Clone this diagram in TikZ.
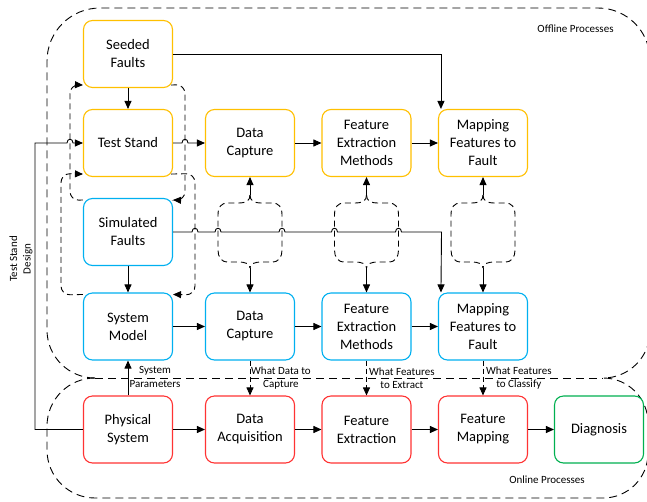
\documentclass[tikz,border=0pt]{standalone}
\usepackage{fontspec}
\setmainfont{Carlito}
\usetikzlibrary{arrows.meta,calc}
\definecolor{cyel}{HTML}{FFC000}
\definecolor{cblu}{HTML}{00B0F0}
\definecolor{cred}{HTML}{FF3333}
\definecolor{cgrn}{HTML}{00B050}
\newcommand{\hopp}[2]{-- ({#1-3},{#2}) .. controls ({#1-3},{#2-5}) and ({#1+3},{#2-5}) .. ({#1+3},{#2})}
\begin{document}
\begin{tikzpicture}[x=1pt,y=-1pt,
  box/.style={draw, line width=1.1pt, fill=white, rounded corners=9pt, minimum width=89pt, minimum height=67pt, align=center, font=\fontsize{14.5}{18}\selectfont, inner sep=2pt},
  yb/.style={box, draw=cyel},
  bb/.style={box, draw=cblu},
  rb/.style={box, draw=cred},
  gb/.style={box, draw=cgrn},
  conn/.style={line width=0.9pt, -{Triangle[length=8pt,width=7pt]}},
  dconn/.style={conn, dash pattern=on 5pt off 3pt},
  lp/.style={line width=0.9pt, dash pattern=on 6pt off 4pt, rounded corners=9pt, -{Triangle[length=8pt,width=7pt]}},
  brc/.style={line width=0.9pt, dash pattern=on 6pt off 4pt},
  region/.style={line width=0.9pt, dash pattern=on 8pt off 5pt},
  lbl/.style={font=\fontsize{11}{13.5}\selectfont, align=center, inner sep=0pt},
]
\clip (0,0) rectangle (647,501);
\fill[white] (0,0) rectangle (647,501);

% regions
\draw[region] (95,378) .. controls (68.5,378) and (47,356.5) .. (47,330) -- (47,61) .. controls (47,31.7) and (70.7,8) .. (100,8) -- (598,8) .. controls (626.7,8) and (650,31.3) .. (650,60) -- (650,331) .. controls (650,357) and (629,378) .. (603,378);
\draw[region] (95,378) -- (603,378);
\draw[region] (95,378) .. controls (68.5,378) and (47,399.5) .. (47,426) -- (47,450) .. controls (47,476.5) and (68.5,498) .. (95,498) -- (603,498) .. controls (628,498) and (648,478) .. (648,453) -- (648,423) .. controls (648,398) and (628,378) .. (603,378);
\node[lbl] (offl) at (575.5,29) {Offline Processes};
\node[lbl] (onl) at (547,480) {Online Processes};

% boxes
\node[yb] (seed) at (128,54) {Seeded\\Faults};
\node[yb] (test) at (128,143) {Test Stand};
\node[yb] (dcY) at (250,143) {Data\\Capture};
\node[yb] (feY) at (366.5,143) {Feature\\Extraction\\Methods};
\node[yb] (mapY) at (483,143) {Mapping\\Features to\\Fault};
\node[bb] (sim) at (128,232) {Simulated\\Faults};
\node[bb] (sysm) at (128,326.5) {System\\Model};
\node[bb] (dcB) at (250,326.5) {Data\\Capture};
\node[bb] (feB) at (366.5,326.5) {Feature\\Extraction\\Methods};
\node[bb] (mapB) at (483,326.5) {Mapping\\Features to\\Fault};
\node[rb] (phys) at (128,429.5) {Physical\\System};
\node[rb] (daq) at (250,429.5) {Data\\Acquisition};
\node[rb] (fex) at (366.5,429.5) {Feature\\Extraction};
\node[rb] (fmap) at (483,429.5) {Feature\\Mapping};
\node[gb] (diag) at (599,429.5) {Diagnosis};

% dashed loops
\draw[lp] ([xshift=-2pt,yshift=3pt]seed.south east) -- (185,84.5) -- (185,200.5) -- ([yshift=-2pt]sim.north east);
\draw[lp] ([yshift=-2pt]sim.north west) -- (70,200.5) -- (70,84.5) -- ([yshift=3pt]seed.south west);
\draw[lp] ([yshift=-2pt]sysm.north west) -- (61,295) -- (61,173.5) -- ([yshift=3pt]test.south west);
\draw[lp] ([xshift=-2pt,yshift=3pt]test.south east) -- (195,173.5) -- (195,295) -- ([yshift=-2pt]sysm.north east);

% braces
\foreach \c/\t/\b in {250/dcY/dcB, 366.5/feY/feB, 483/mapY/mapB}{
  \coordinate (bt\t) at (\c,195);
  \coordinate (bb\b) at (\c,268);
  \draw[brc] (bt\t) .. controls (\c,201) and (\c-4,203) .. (\c-12,203) -- (\c-22,203) .. controls (\c-29,203) and (\c-32,207) .. (\c-32,215) -- (\c-32,250) .. controls (\c-32,257) and (\c-29,262) .. (\c-22,262) -- (\c-12,262) .. controls (\c-4,262) and (\c,264) .. (bb\b);
  \draw[brc] (bt\t) .. controls (\c,201) and (\c+4,203) .. (\c+12,203) -- (\c+22,203) .. controls (\c+29,203) and (\c+32,207) .. (\c+32,215) -- (\c+32,250) .. controls (\c+32,257) and (\c+29,262) .. (\c+22,262) -- (\c+12,262) .. controls (\c+4,262) and (\c,264) .. (bb\b);
  \draw[conn] (bt\t) -- (\t.south);
  \draw[conn] (bb\b) -- (\b.north);
}

% solid connectors
\draw[conn] (seed) -- (test);
\draw[conn] (seed.east) -| ([xshift=3pt]mapY.north west);
\draw[conn] (test.east) \hopp{185}{143} -- (dcY.west);
\draw[conn] (dcY) -- (feY);
\draw[conn] (feY) -- (mapY);
\draw[conn] (phys.west) -- (35,429.5) -- (35,143) \hopp{70}{143} -- (test.west);
\draw[conn] (sim) -- (sysm);
\draw[conn] (sim.east) \hopp{195}{232} \hopp{218}{232} \hopp{282}{232} \hopp{334.5}{232} \hopp{398.5}{232} -- (441.5,232) -- ([xshift=3pt]mapB.north west);
\draw[conn] (sysm) -- (dcB);
\draw[conn] (dcB) -- (feB);
\draw[conn] (feB) -- (mapB);
\draw[conn] (phys) -- (sysm);
\draw[conn] (phys) -- (daq);
\draw[conn] (daq) -- (fex);
\draw[conn] (fex) -- (fmap);
\draw[conn] (fmap) -- (diag);
\draw[dconn] (dcB) -- (daq);
\draw[dconn] (feB) -- (fex);
\draw[dconn] (mapB) -- (fmap);

% labels
\node[lbl] (lsp) at (155,377) {System\\Parameters};
\node[lbl, anchor=west] (lwd) at (251,378) {What Data to\\Capture};
\node[lbl, anchor=west] (lwe) at (369,378) {What Features\\to Extract};
\node[lbl, anchor=west] (lwc) at (486,378) {What Features\\to Classify};
\node[lbl, rotate=90] (ltsd) at (21,259) {Test Stand\\Design};
\end{tikzpicture}
\end{document}
